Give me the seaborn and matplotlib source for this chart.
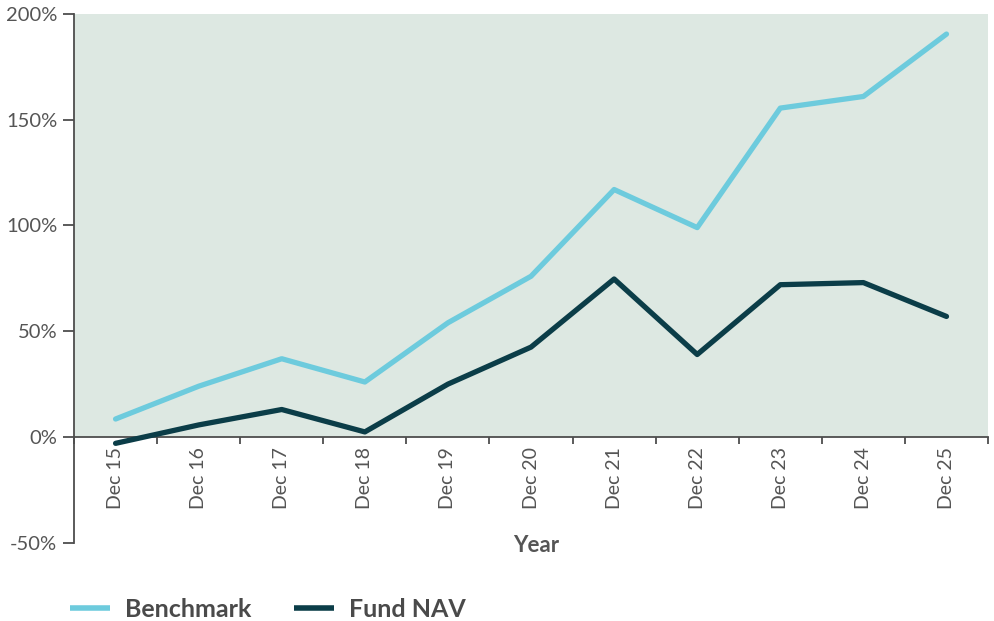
import pandas as pd
import matplotlib.pyplot as plt
import seaborn as sns
from matplotlib.ticker import FixedLocator, FuncFormatter

# Chart values
years = ["Dec 15", "Dec 16", "Dec 17", "Dec 18", "Dec 19", "Dec 20",
         "Dec 21", "Dec 22", "Dec 23", "Dec 24", "Dec 25"]
benchmark = [8.5, 24, 37, 26, 54, 76, 117, 99, 155.5, 161, 190.5]
fund_nav = [-3, 5.7, 13, 2.4, 25, 42.5, 74.7, 39, 72, 73, 57]

series_names = ["Benchmark", "Fund NAV"]
colors = {"Benchmark": "#6dcbdd", "Fund NAV": "#0b3d48"}

# Long-form table for seaborn
df = pd.DataFrame({
    "Year": years * 2,
    "Return": benchmark + fund_nav,
    "Series": ["Benchmark"] * len(years) + ["Fund NAV"] * len(years),
})

sns.set_theme(style="white")
plt.rcParams["font.family"] = ["Lato", "DejaVu Sans"]

text_grey = "#555555"
axis_grey = "#4d4d4d"

fig = plt.figure(figsize=(9.95, 6.21), dpi=100)
ax = fig.add_axes([0.0744, 0.126, 0.9186, 0.8515])

# Shaded positive region
ax.axhspan(0, 200, color="#dde8e2", zorder=0, lw=0)

sns.lineplot(data=df, x="Year", y="Return", hue="Series", hue_order=series_names,
             palette=colors, linewidth=3.8, sort=False, legend=False, ax=ax, zorder=3)

ax.set_xlim(-0.5, len(years) - 0.5)
ax.set_ylim(-50, 200)
ax.set_yticks([-50, 0, 50, 100, 150, 200])
ax.yaxis.set_major_formatter(FuncFormatter(lambda v, p: f"{v:.0f}%"))

# Spines: left axis plus an x axis sitting on the 0% line
for side in ["top", "right"]:
    ax.spines[side].set_visible(False)
ax.spines["left"].set_color(axis_grey)
ax.spines["left"].set_linewidth(1.3)
ax.spines["bottom"].set_position(("data", 0))
ax.spines["bottom"].set_color(axis_grey)
ax.spines["bottom"].set_linewidth(1.3)

ax.set_xticks(range(len(years)))
ax.set_xticklabels(years, rotation=90)
ax.xaxis.set_minor_locator(FixedLocator([i - 0.5 for i in range(len(years) + 1)]))
ax.tick_params(axis="x", which="major", length=0, pad=7, labelsize=14, labelcolor=text_grey)
ax.tick_params(axis="x", which="minor", bottom=True, length=5, width=1.3, color=axis_grey, direction="out")
ax.tick_params(axis="y", left=True, length=8, width=1.3, color=axis_grey, pad=4,
               labelsize=14.5, labelcolor=text_grey)

ax.set_ylabel("")
ax.set_xlabel("")
fig.text(0.539, 0.121, "Year", ha="center", va="center", fontsize=16,
         fontweight="bold", color=text_grey)

# Legend below the chart
handles = [plt.Line2D([], [], color=colors[s], linewidth=4, solid_capstyle="butt")
           for s in series_names]
leg = fig.legend(handles, series_names, loc="center left", bbox_to_anchor=(0.0704, 0.0193),
                 ncol=2, frameon=False, borderpad=0, borderaxespad=0,
                 handlelength=1.6, handletextpad=0.6, columnspacing=1.7,
                 prop={"size": 18, "weight": "bold"})
for t in leg.get_texts():
    t.set_color("#4a4a4a")

fig.savefig("out.png", dpi=100)
